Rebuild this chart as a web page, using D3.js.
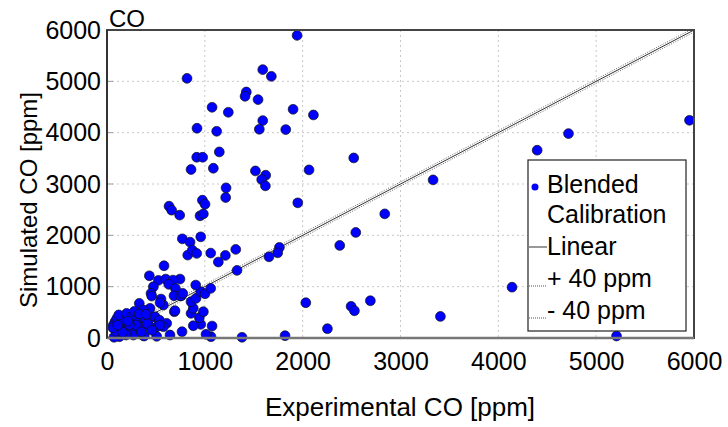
<!DOCTYPE html>
<html>
<head>
<meta charset="utf-8">
<script src="https://cdn.jsdelivr.net/npm/d3@7"></script>
<style>
body { margin: 0; background: #fff; }
text { font-family: "Liberation Sans", Arial, sans-serif; fill: #000; }
</style>
</head>
<body>
<script>
// measured CO (x) vs simulated CO (y), ppm
var expCO = [1943,818,1592,1680,1424,1411,1544,1074,1240,1902,2110,1592,1557,1827,920,1121,
  1148,917,978,859,1087,1517,1622,1581,1619,2065,1217,1213,1950,975,1002,634,661,743,951,985,
  770,849,958,825,872,917,1060,1210,1316,1762,1745,1656,2379,2522,4397,3333,2839,2543,2032,
  2495,2529,2692,2253,3408,4140,5208,4717,5954,1138,1329,1820,1380,1063,1012,1074,958,882,
  944,859,985,882,859,910,958,1002,1060,907,760,746,583,433,525,600,675,631,699,474,450,685,
  753,552,576,688,330,440,371,286,218,133,82,65,150,184,252,320,389,440,491,535,610,576,508,
  440,371,303,235,133,767,644,508,371,269,194,126,72,381,542,695,542,457,774,
  100,170,120,200,260,300,350,410,460,90,160,230,280,330,400,60,110,215];
var simCO = [5895,5058,5228,5097,4792,4708,4644,4494,4397,4455,4345,4235,4066,4060,4086,4027,
  3625,3521,3521,3282,3307,3255,3171,3087,2964,3275,2925,2737,2633,2685,2607,2568,2490,2393,
  2380,2418,1932,1868,1971,1615,1712,1648,1654,1609,1726,1765,1660,1582,1803,3508,3658,3080,
  2418,2056,687,617,531,726,181,420,990,39,3982,4241,1480,1317,45,14,25,72,233,266,239,395,
  480,512,578,706,772,901,862,967,1031,823,1148,1407,1212,1122,1148,1128,1045,967,998,870,
  823,823,759,642,512,675,578,545,383,414,414,317,253,286,220,286,317,350,383,414,350,286,
  220,220,220,220,188,156,175,123,58,33,45,58,58,25,14,39,687,531,253,817,870,
  380,350,450,480,440,250,120,280,150,130,110,260,520,470,460,200,250,330];

var xTicks = [0, 1000, 2000, 3000, 4000, 5000, 6000];
var yTicks = [0, 1000, 2000, 3000, 4000, 5000, 6000];
var band = 40;
var legendLabels = ["Blended", "Calibration", "Linear", "+ 40 ppm", "- 40 ppm"];

var W = 728, H = 427;
var pLeft = 107, pRight = 694, pTop = 30, pBottom = 338;

var svg = d3.select("body").append("svg")
    .attr("width", W)
    .attr("height", H);

var x = d3.scaleLinear().domain([0, 6000]).range([pLeft, pRight]);
var y = d3.scaleLinear().domain([0, 6000]).range([pBottom, pTop]);

// grid
svg.append("g").selectAll("line")
    .data(xTicks.slice(1, -1))
    .enter().append("line")
    .attr("x1", d => x(d)).attr("x2", d => x(d))
    .attr("y1", pTop).attr("y2", pBottom)
    .attr("stroke", "#c8c8c8").attr("stroke-dasharray", "2,3");
svg.append("g").selectAll("line")
    .data(yTicks.slice(1, -1))
    .enter().append("line")
    .attr("y1", d => y(d)).attr("y2", d => y(d))
    .attr("x1", pLeft).attr("x2", pRight)
    .attr("stroke", "#c8c8c8").attr("stroke-dasharray", "2,3");

// axes
var fmt = d3.format("d");
var xAxis = d3.axisBottom(x).tickValues(xTicks).tickFormat(fmt).tickSize(0).tickPadding(14);
var gx = svg.append("g").attr("transform", "translate(0," + pBottom + ")").call(xAxis);
gx.select(".domain").remove();
gx.selectAll("text").style("font-size", "25px").attr("font-family", null);

var yAxis = d3.axisLeft(y).tickValues(yTicks).tickFormat(fmt).tickSize(0).tickPadding(6);
var gy = svg.append("g").attr("transform", "translate(" + pLeft + ",0)").call(yAxis);
gy.select(".domain").remove();
gy.selectAll("text").style("font-size", "25px").attr("font-family", null);

// small inward ticks
svg.append("g").selectAll("line")
    .data(yTicks.slice(1, -1))
    .enter().append("line")
    .attr("x1", pLeft).attr("x2", pLeft + 6)
    .attr("y1", d => y(d)).attr("y2", d => y(d))
    .attr("stroke", "#999");

// reference lines
var line = d3.line().x(d => x(d[0])).y(d => y(d[1]));
[band, -band].forEach(function(off) {
    var pts = off > 0 ? [[0, off], [6000 - off, 6000]] : [[-off, 0], [6000, 6000 + off]];
    svg.append("path")
        .datum(pts)
        .attr("d", line)
        .attr("fill", "none")
        .attr("stroke", "#444")
        .attr("stroke-width", 0.8)
        .attr("stroke-dasharray", "1,1.5");
});
svg.append("path")
    .datum([[0, 0], [6000, 6000]])
    .attr("d", line)
    .attr("fill", "none")
    .attr("stroke", "#333")
    .attr("stroke-width", 1);

// points
svg.append("g").selectAll("circle")
    .data(expCO.map((d, i) => [d, simCO[i]]))
    .enter().append("circle")
    .attr("cx", d => x(d[0]))
    .attr("cy", d => y(d[1]))
    .attr("r", 4.9)
    .attr("fill", "#0000ff")
    .attr("stroke", "#111")
    .attr("stroke-width", 0.7);

// frame
svg.append("rect")
    .attr("x", pLeft).attr("y", pTop)
    .attr("width", pRight - pLeft).attr("height", pBottom - pTop)
    .attr("fill", "none").attr("stroke", "#444").attr("stroke-width", 2);
svg.append("line")
    .attr("x1", pLeft).attr("x2", pRight).attr("y1", pBottom).attr("y2", pBottom)
    .attr("stroke", "#777").attr("stroke-width", 2.5);
svg.append("line")
    .attr("x1", pLeft).attr("x2", pLeft).attr("y1", pTop).attr("y2", pBottom)
    .attr("stroke", "#333").attr("stroke-width", 2);

// titles
svg.append("text").text("CO")
    .attr("x", 109).attr("y", 27)
    .style("font-size", "24px");
svg.append("text").text("Experimental CO [ppm]")
    .attr("x", 400).attr("y", 416)
    .attr("text-anchor", "middle")
    .style("font-size", "26px");
svg.append("text").text("Simulated CO [ppm]")
    .attr("transform", "translate(37,200) rotate(-90)")
    .attr("text-anchor", "middle")
    .style("font-size", "24px");

// legend
var lg = svg.append("g").attr("transform", "translate(528,160)");
lg.append("rect").attr("width", 158).attr("height", 171)
    .attr("fill", "#fff").attr("stroke", "#222").attr("stroke-width", 1.2);
var rowY = [33, 63, 95, 127, 159];
lg.append("circle").attr("cx", 7).attr("cy", 27).attr("r", 3.5).attr("fill", "#0000ff");
lg.append("line").attr("x1", 1).attr("x2", 19).attr("y1", 87).attr("y2", 87)
    .attr("stroke", "#555").attr("stroke-width", 1.2);
lg.append("line").attr("x1", 1).attr("x2", 19).attr("y1", 126).attr("y2", 126)
    .attr("stroke", "#555").attr("stroke-dasharray", "1,1");
lg.append("line").attr("x1", 1).attr("x2", 19).attr("y1", 158).attr("y2", 158)
    .attr("stroke", "#555").attr("stroke-dasharray", "1,1");
lg.selectAll("text")
    .data(legendLabels)
    .enter().append("text")
    .attr("x", 19)
    .attr("y", (d, i) => rowY[i])
    .style("font-size", "25px")
    .text(d => d);
</script>
</body>
</html>
